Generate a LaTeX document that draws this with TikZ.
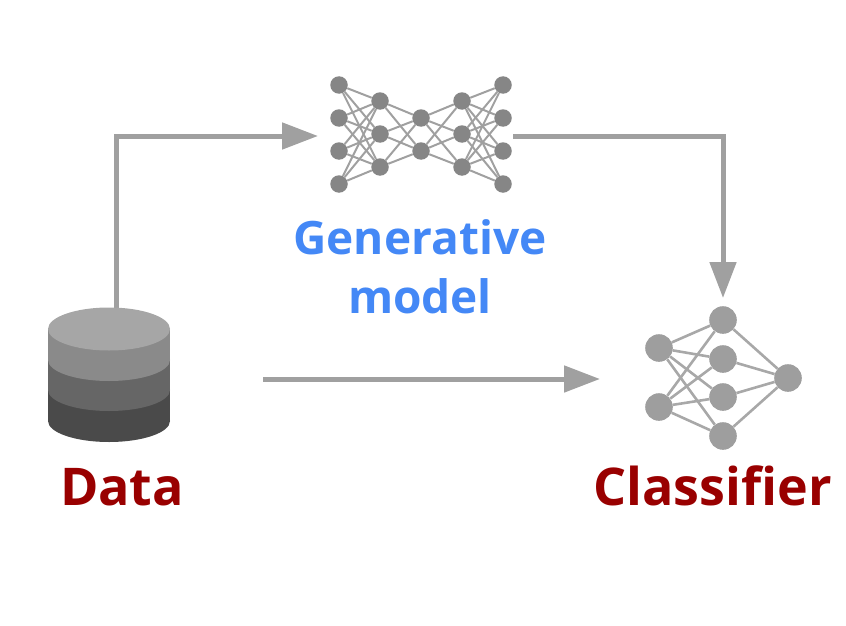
\documentclass[tikz,border=0pt]{standalone}
\usepackage{fontspec}
\setmainfont{Open Sans}
\usetikzlibrary{arrows.meta,backgrounds}
\definecolor{flow}{HTML}{A0A0A0}
\definecolor{gennode}{HTML}{868686}
\definecolor{genedge}{HTML}{A0A0A0}
\definecolor{clsnode}{HTML}{9E9E9E}
\definecolor{clsedge}{HTML}{A8A8A8}
\definecolor{genblue}{HTML}{4488F6}
\definecolor{darkred}{HTML}{990000}
\definecolor{dbA}{HTML}{A6A6A6}
\definecolor{dbB}{HTML}{8A8A8A}
\definecolor{dbC}{HTML}{666666}
\definecolor{dbD}{HTML}{4A4A4A}
\tikzset{
  flowline/.style={draw=flow,line width=5pt,-{Triangle[length=36pt,width=26pt]}},
  gn/.style={circle,fill=gennode,inner sep=0pt,minimum size=17.5pt},
  cn/.style={circle,fill=clsnode,inner sep=0pt,minimum size=27.6pt},
  ge/.style={draw=genedge,line width=2pt},
  ce/.style={draw=clsedge,line width=2.6pt},
  labg/.style={font=\bfseries\fontsize{46}{46}\selectfont,anchor=base,inner sep=0pt},
  labr/.style={font=\bfseries\fontsize{52}{52}\selectfont,anchor=base,inner sep=0pt},
}
\begin{document}
\begin{tikzpicture}[x=1pt,y=-1pt]
\useasboundingbox (0,0) rectangle (846,626);
% generative network
\foreach \n/\x/\y in {a1/339/85,a2/339/118,a3/339/151,a4/339/184,
  b1/380/101,b2/380/134,b3/380/167,c1/421/118,c2/421/151,
  d1/462/101,d2/462/134,d3/462/167,e1/503/85,e2/503/118,e3/503/151,e4/503/184}
  \node[gn] (\n) at (\x,\y) {};
\begin{scope}[on background layer]
\foreach \i in {1,...,4} \foreach \j in {1,2,3} {
  \draw[ge] (a\i) -- (b\j);
  \draw[ge] (e\i) -- (d\j);
}
\foreach \i in {1,2,3} \foreach \j in {1,2} {
  \draw[ge] (b\i) -- (c\j);
  \draw[ge] (d\i) -- (c\j);
}
\end{scope}
% classifier network
\foreach \n/\x/\y in {p1/659/348,p2/659/407,q1/723/320,q2/723/359,q3/723/397,q4/723/436,r1/788/378}
  \node[cn] (\n) at (\x,\y) {};
\begin{scope}[on background layer]
\foreach \j in {1,...,4} {
  \draw[ce] (p1) -- (q\j);
  \draw[ce] (p2) -- (q\j);
  \draw[ce] (r1) -- (q\j);
}
\end{scope}
% connectors
\coordinate (dbtop) at (116,308);
\coordinate (dbright) at (263,379);
\coordinate (genleft) at (318,136);
\coordinate (genright) at (513,136);
\coordinate (clstop) at (723,298);
\coordinate (clsleft) at (600,379);
\draw[flowline] (dbtop) |- (genleft);
\draw[flowline] (genright) -| (clstop);
\draw[flowline] (dbright) -- (clsleft);
% database
\fill[dbD] (48,390) rectangle (170,421);
\fill[dbD] (109,421) ellipse[x radius=61,y radius=21];
\fill[dbC] (48,360) rectangle (170,390);
\fill[dbC] (109,390) ellipse[x radius=61,y radius=21];
\fill[dbB] (48,329) rectangle (170,360);
\fill[dbB] (109,360) ellipse[x radius=61,y radius=21];
\fill[dbA] (109,329) ellipse[x radius=61,y radius=21.5];
% labels
\node[labg,text=genblue] (t1) at (420,254) {Generative};
\node[labg,text=genblue] (t2) at (420,313) {model};
\node[labr,text=darkred] (t3) at (122,505) {Data};
\node[labr,text=darkred] (t4) at (712.5,505) {Classifier};
\end{tikzpicture}
\end{document}
